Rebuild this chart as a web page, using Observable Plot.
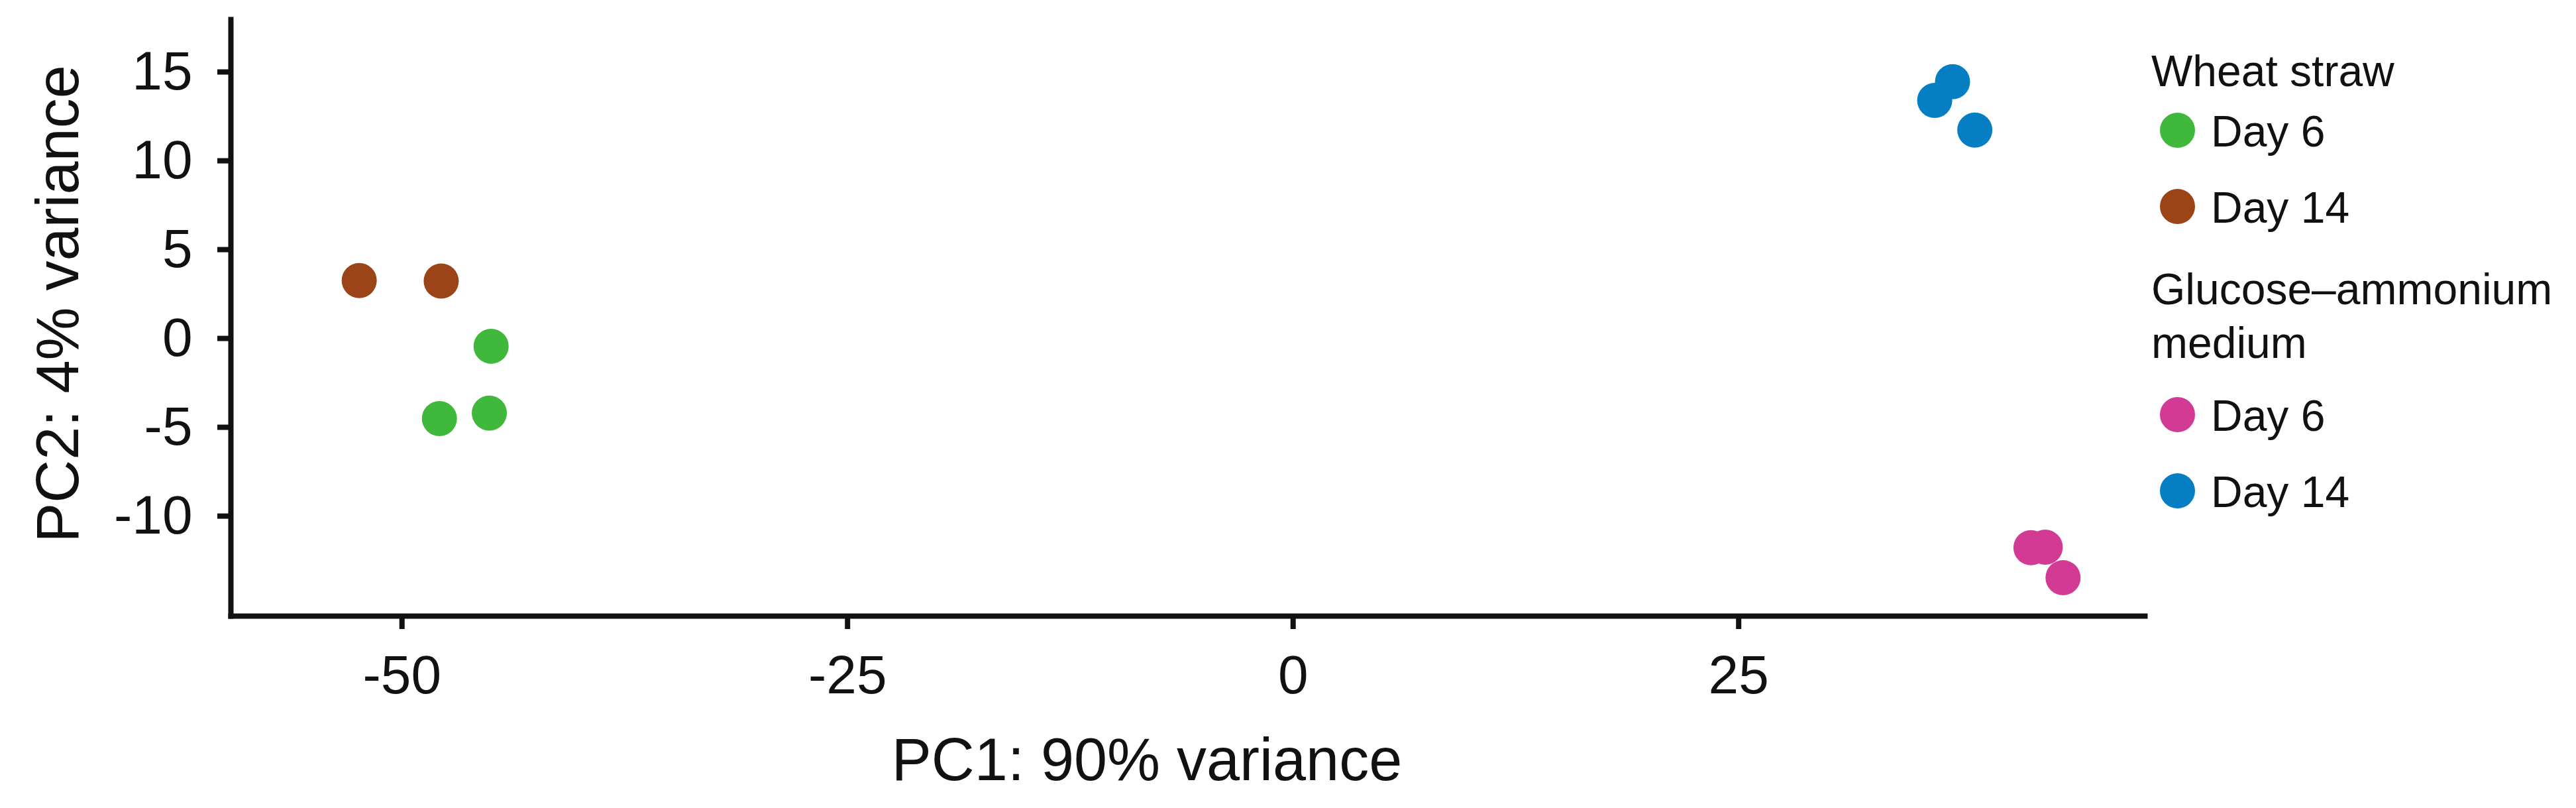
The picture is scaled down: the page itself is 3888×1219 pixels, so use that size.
<!DOCTYPE html>
<html>
<head>
<meta charset="utf-8">
<script src="https://cdn.jsdelivr.net/npm/d3@7"></script>
<script src="https://cdn.jsdelivr.net/npm/@observablehq/plot@0.6"></script>
<style>
html, body { margin: 0; padding: 0; background: #fff; }
#wrap { position: relative; width: 3888px; height: 1219px; font-family: "Liberation Sans", Arial, Helvetica, sans-serif; overflow: hidden; }
#chart { position: absolute; left: 0; top: 0; }
#legend { position: absolute; left: 3247px; top: 67px; width: 641px; color: #111; font-size: 66px; }
.lg-title { line-height: 81px; }
.lg-group:nth-child(1) .lg-items { margin-top: -7px; }
.lg-group:nth-child(2) .lg-title { margin-top: 25px; }
.lg-group:nth-child(2) .lg-items { margin-top: 12px; }
.lg-item { display: flex; align-items: center; height: 115px; line-height: 115px; white-space: nowrap; }
.lg-dot { width: 53px; height: 53px; border-radius: 50%; margin-left: 13px; margin-right: 24px; flex: none; position: relative; top: -2px; }
</style>
</head>
<body>
<div id="wrap"><div id="chart"></div><div id="legend"></div></div>
<script>
// ---- data ----
const groupNames = ["Wheat straw", "Glucose\u2013ammonium medium"];
const dayNames = ["Day 6", "Day 14"];
const seriesKeys = ["WS-6", "WS-14", "GA-6", "GA-14"];
const seriesGroup = [0, 0, 1, 1];
const seriesDay = [0, 1, 0, 1];
const seriesColors = ["#3fb83c", "#9b4417", "#d33a94", "#057ec4"];

const sampleSeries = ["WS-14", "WS-14", "WS-6", "WS-6", "WS-6", "GA-14", "GA-14", "GA-14", "GA-6", "GA-6", "GA-6"];
const pc1 = [-52.4, -47.8, -45.0, -47.9, -45.1, 36.0, 37.0, 38.25, 41.4, 42.2, 43.2];
const pc2 = [3.26, 3.23, -0.44, -4.51, -4.2, 13.4, 14.45, 11.73, -11.78, -11.75, -13.47];

const xTicks = [-50, -25, 0, 25];
const yTicks = [-10, -5, 0, 5, 10, 15];
const xTitle = "PC1: 90% variance";
const yTitle = "PC2: 4% variance";

// ---- chart ----
const data = pc1.map((x, i) => ({pc1: x, pc2: pc2[i], series: sampleSeries[i]}));

const chart = Plot.plot({
  width: 3240,
  height: 1219,
  marginLeft: 348,
  marginRight: 3,
  marginTop: 29,
  marginBottom: 290,
  style: {fontFamily: "Liberation Sans, Arial, Helvetica, sans-serif", background: "#fff", color: "#111", overflow: "visible"},
  x: {domain: [-59.6, 47.8]},
  y: {domain: [-15.63, 17.95]},
  color: {domain: seriesKeys, range: seriesColors},
  marks: [
    Plot.axisX({ticks: xTicks, tickFormat: d => String(d), tickSize: 20, tickPadding: 38, fontSize: 82, strokeWidth: 8, label: null}),
    Plot.axisY({ticks: yTicks, tickFormat: d => String(d), tickSize: 20, tickPadding: 38, fontSize: 82, strokeWidth: 8, label: null}),
    Plot.dot(data, {x: "pc1", y: "pc2", fill: "series", r: 26.5, stroke: null}),
    Plot.frame({anchor: "left", strokeWidth: 8, stroke: "#111", strokeLinecap: "square"}),
    Plot.frame({anchor: "bottom", strokeWidth: 8, stroke: "#111", strokeLinecap: "square"}),
    Plot.text([xTitle], {frameAnchor: "bottom", textAnchor: "middle", lineAnchor: "top", dy: 184, dx: -62, fontSize: 90, fill: "#111"}),
    Plot.text([yTitle], {frameAnchor: "left", textAnchor: "middle", lineAnchor: "top", rotate: -90, dx: -294, dy: -21, fontSize: 90, fill: "#111"})
  ]
});
document.getElementById("chart").appendChild(chart);

// ---- legend (HTML, beside the plot) ----
const legend = d3.select("#legend");
groupNames.forEach((g, gi) => {
  const grp = legend.append("div").attr("class", "lg-group");
  grp.append("div").attr("class", "lg-title").text(g);
  const items = grp.append("div").attr("class", "lg-items");
  seriesKeys.forEach((k, si) => {
    if (seriesGroup[si] !== gi) return;
    const row = items.append("div").attr("class", "lg-item");
    row.append("span").attr("class", "lg-dot").style("background", seriesColors[si]);
    row.append("span").text(dayNames[seriesDay[si]]);
  });
});
</script>
</body>
</html>
